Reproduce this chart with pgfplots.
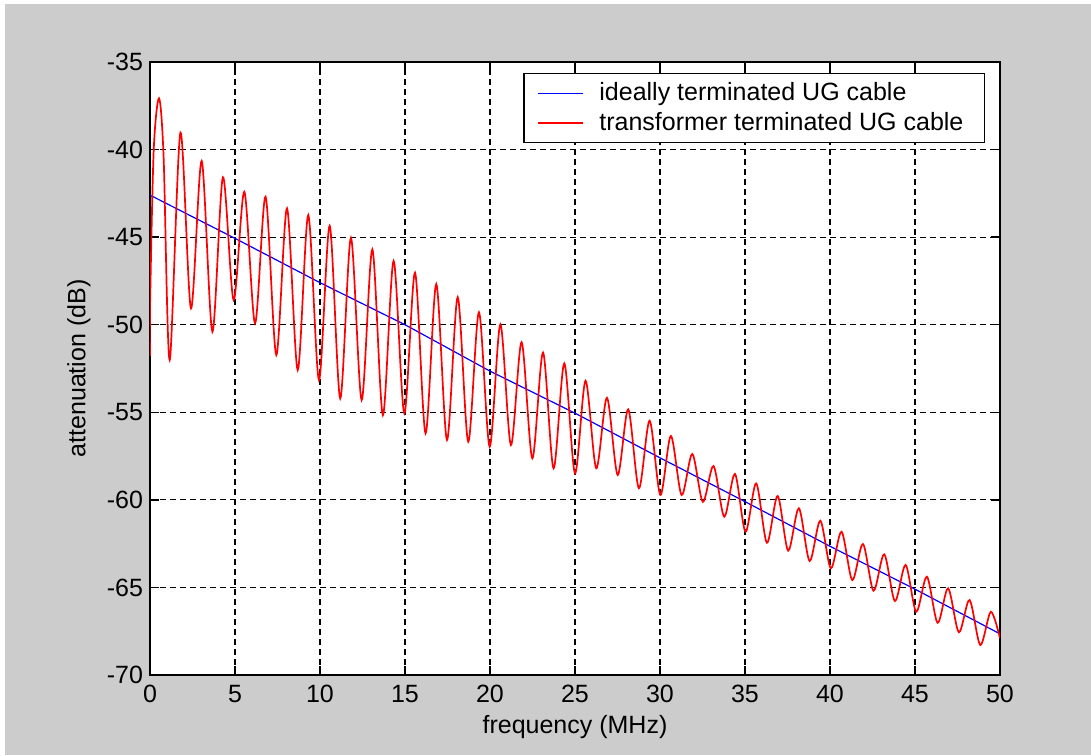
\documentclass[border=0pt]{standalone}
\usepackage{pgfplots}
\pgfplotsset{compat=1.18}
\usepackage{fontspec}
\setmainfont{Liberation Sans}
\definecolor{figgray}{RGB}{204,204,204}
\begin{document}
\begin{tikzpicture}[x=1pt,y=1pt]
\fill[white] (-75,-40) rectangle (470.5,337.5);
\fill[figgray] (-72.5,-40) rectangle (470.5,335.5);
\begin{axis}[
  at={(0,0)}, anchor=south west,
  scale only axis, width=425pt, height=306.5pt,
  xmin=0, xmax=50, ymin=-70, ymax=-35,
  xtick={0,5,...,50}, ytick={-70,-65,...,-35},
  tick align=inside, tick pos=both,
  major tick length=4.5pt,
  grid=major,
  major grid style={black, dash pattern=on 3pt off 2pt, line width=0.55pt},
  axis line style={line width=0.9pt},
  every tick/.style={black, line width=0.7pt},
  axis background/.style={fill=white},
  tick label style={font=\fontsize{12.5}{15}\selectfont},
  xticklabel style={yshift=-1.5pt},
  /pgf/number format/assume math mode=true,
  xlabel={frequency (MHz)}, ylabel={attenuation (dB)},
  every axis x label/.style={at={(axis description cs:0.5,-0.0856)}, anchor=center, font=\fontsize{12.5}{15}\selectfont},
  every axis y label/.style={at={(axis description cs:-0.0835,0.5)}, anchor=center, rotate=90, font=\fontsize{12.5}{15}\selectfont},
  legend style={at={(rel axis cs:0.9824,0.982)}, anchor=north east, draw=black, line width=0.6pt, fill=white,
    font=\fontsize{12.5}{15}\selectfont, inner xsep=2pt, inner ysep=2.6pt, row sep=0.15pt},
  legend cell align=left,
  legend image code/.code={\draw[#1] (0pt,0pt) (33pt,0pt) (4.5pt,0pt) -- (27pt,0pt);},
  legend image post style={line width=0.7pt},
]
\addplot[blue, line width=0.6pt] coordinates {
(0,-42.6) (5,-45.07) (10,-47.6) (15,-50.0) (20,-52.65) (25,-55.05) (30,-57.6) (35,-60.1) (40,-62.65) (45,-65.1) (50,-67.65)
};
\addlegendentry{ideally terminated UG cable}
\addplot[red, line width=0.85pt, smooth] coordinates {
(0,-51.8) (0.01,-48.6) (0.22,-40.0) (0.53,-37.07) (0.8,-40.4) (1.16,-52.02) (1.79,-39.03) (2.41,-49.07) (3.04,-40.65) (3.67,-50.40) (4.29,-41.58) (4.92,-48.59) (5.55,-42.41) (6.18,-49.92) (6.80,-42.69) (7.43,-51.73) (8.06,-43.36) (8.69,-52.59) (9.31,-43.74) (9.94,-53.16) (10.57,-44.35) (11.19,-54.21) (11.82,-45.04) (12.45,-54.30) (13.08,-45.70) (13.70,-55.16) (14.33,-46.36) (14.96,-55.06) (15.59,-47.03) (16.21,-56.20) (16.84,-47.68) (17.47,-56.58) (18.10,-48.43) (18.72,-56.68) (19.35,-49.29) (19.98,-56.97) (20.61,-49.98) (21.23,-56.87) (21.86,-51.00) (22.49,-57.63) (23.12,-51.59) (23.74,-58.20) (24.37,-52.21) (25.00,-58.49) (25.62,-53.20) (26.25,-58.20) (26.88,-54.17) (27.51,-58.58) (28.13,-54.83) (28.76,-59.34) (29.39,-55.48) (30.02,-59.72) (30.64,-56.35) (31.27,-59.72) (31.90,-57.38) (32.52,-60.11) (33.15,-58.07) (33.78,-60.96) (34.41,-58.52) (35.03,-61.82) (35.66,-59.06) (36.29,-62.45) (36.92,-59.78) (37.54,-62.90) (38.17,-60.48) (38.80,-63.49) (39.43,-61.19) (40.05,-63.91) (40.68,-61.82) (41.31,-64.58) (41.94,-62.52) (42.56,-65.19) (43.19,-63.11) (43.82,-65.78) (44.45,-63.72) (45.07,-66.39) (45.70,-64.39) (46.33,-67.02) (46.95,-65.05) (47.58,-67.56) (48.21,-65.72) (48.84,-68.29) (49.46,-66.39) (50,-67.9)
};
\addlegendentry{transformer terminated UG cable\hspace*{6.5pt}}
\end{axis}
\end{tikzpicture}
\end{document}
